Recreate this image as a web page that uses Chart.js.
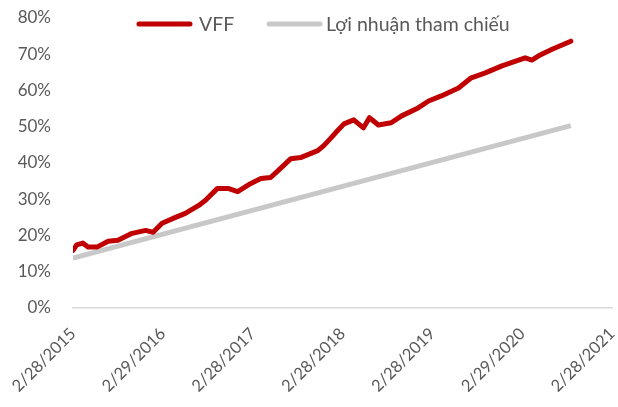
<!DOCTYPE html>
<html>
<head>
<meta charset="utf-8">
<script src="https://cdn.jsdelivr.net/npm/chart.js@4.4.1/dist/chart.umd.min.js"></script>
<style>
html,body{margin:0;padding:0;background:#fff;}
#wrap{width:618px;height:407px;position:relative;}
</style>
</head>
<body>
<div id="wrap"><canvas id="c" width="618" height="407"></canvas></div>
<script>
// Tick labels for the x axis (one per year, month offset 0,12,...,72)
const tickLabels = ["2/28/2015","2/29/2016","2/28/2017","2/28/2018","2/28/2019","2/29/2020","2/28/2021"];
// VFF cumulative return (%), months since 2/28/2015
const vffMonths = [0, 0.5, 1.3, 2.0, 3.2, 4.7, 6.0, 7.9, 9.7, 10.7, 11.9, 13.7, 15.0, 16.8, 17.7, 19.3, 20.7, 22.0, 23.7, 25.1, 26.4, 27.4, 29.1, 30.4, 32.7, 33.5, 34.5, 35.1, 36.2, 37.5, 38.8, 39.6, 40.8, 42.5, 43.9, 46.1, 47.5, 49.2, 51.5, 53.2, 55.0, 57.3, 60.4, 61.3, 62.4, 64.0, 66.5];
const vffValues = [15.9, 17.4, 17.9, 16.8, 16.8, 18.4, 18.7, 20.6, 21.4, 20.9, 23.4, 25.0, 26.1, 28.3, 29.7, 33.0, 33.0, 32.1, 34.3, 35.7, 36.0, 37.9, 41.2, 41.5, 43.4, 44.8, 47.0, 48.4, 50.8, 51.9, 49.7, 52.5, 50.5, 51.1, 53.0, 55.2, 57.1, 58.5, 60.7, 63.5, 64.8, 66.8, 69.0, 68.4, 69.8, 71.4, 73.6];
// Reference return (%)
const refMonths = [0, 66.5];
const refValues = [13.8, 50.3];

const seriesNames = ["VFF", "Lợi nhuận tham chiếu"];
const FONT = "Lato, 'Open Sans', sans-serif";
const TXT = "#595959";

const toPts = (xs, ys) => xs.map((x, i) => ({x: x, y: ys[i]}));

const legendPlugin = {
  id: 'inlineLegend',
  afterDraw(chart) {
    const ctx = chart.ctx;
    const ds = chart.data.datasets;
    const items = [
      {x0: 139, x1: 190, tx: 199},
      {x0: 269, x1: 320, tx: 326}
    ];
    ctx.save();
    ctx.font = "19.5px " + FONT;
    ctx.textBaseline = "middle";
    ctx.lineCap = "round";
    items.forEach((it, i) => {
      ctx.strokeStyle = ds[i].borderColor;
      ctx.lineWidth = 5;
      ctx.beginPath();
      ctx.moveTo(it.x0, 24);
      ctx.lineTo(it.x1, 24);
      ctx.stroke();
      ctx.fillStyle = TXT;
      ctx.fillText(ds[i].label, it.tx, 25);
    });
    ctx.restore();
  }
};

new Chart(document.getElementById('c'), {
  type: 'line',
  data: {
    datasets: [
      {label: seriesNames[0], data: toPts(vffMonths, vffValues), borderColor: '#c00000', borderWidth: 5, pointRadius: 0, tension: 0, borderCapStyle: 'round', borderJoinStyle: 'round', order: 1},
      {label: seriesNames[1], data: toPts(refMonths, refValues), borderColor: '#c8c8c8', borderWidth: 5, pointRadius: 0, tension: 0, order: 2}
    ]
  },
  options: {
    responsive: false,
    animation: false,
    layout: {padding: {top: 18, right: 6, left: 0, bottom: 0}},
    plugins: {legend: {display: false}, tooltip: {enabled: false}},
    scales: {
      x: {
        type: 'linear', min: 0, max: 72,
        grid: {display: false, drawTicks: false},
        border: {display: true, color: '#d9d9d9', width: 1.5},
        afterFit: (s) => { s.height = 99; s.paddingLeft = 0; s.paddingRight = 0; },
        ticks: {
          stepSize: 12, autoSkip: false, minRotation: 45, maxRotation: 45,
          color: TXT, font: {family: FONT, size: 16.5}, padding: 16,
          callback: (v) => tickLabels[Math.round(v / 12)]
        }
      },
      y: {
        min: 0, max: 80,
        grid: {display: false, drawTicks: false},
        border: {display: false},
        afterFit: (s) => { s.width = 73; s.paddingTop = 0; s.paddingBottom = 0; },
        ticks: {
          stepSize: 10, color: TXT, font: {family: FONT, size: 17}, padding: 22,
          callback: (v) => v + '%'
        }
      }
    }
  },
  plugins: [legendPlugin]
});
</script>
</body>
</html>
